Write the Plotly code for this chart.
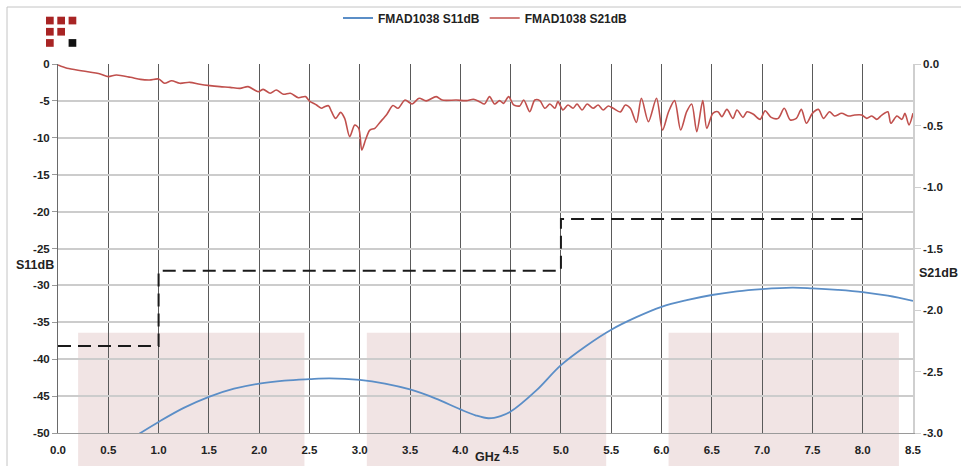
import plotly.graph_objects as go

# ---------------- data ----------------
s11_ghz = [0.60, 0.82, 1.00, 1.25, 1.50, 1.75, 2.00, 2.25, 2.50, 2.70, 3.00, 3.25,
           3.50, 3.75, 4.00, 4.15, 4.28, 4.40, 4.50, 4.75, 5.00, 5.25, 5.50,
           5.75, 6.00, 6.25, 6.50, 6.75, 7.00, 7.30, 7.50, 7.75, 8.00, 8.25, 8.50]
s11_db = [-52.0, -50.0, -48.5, -46.6, -45.1, -44.0, -43.3, -42.9, -42.7, -42.6, -42.8, -43.3,
          -44.1, -45.3, -46.8, -47.6, -48.0, -47.7, -47.1, -44.3, -40.8, -38.2, -36.0,
          -34.3, -32.9, -32.0, -31.3, -30.8, -30.5, -30.3, -30.4, -30.6, -30.9, -31.4, -32.1]

s21_ghz = [0.00, 0.09, 0.25, 0.42, 0.50, 0.58, 0.72, 0.82, 0.91, 1.00, 1.06, 1.13, 1.21, 1.31,
           1.41, 1.51, 1.61, 1.71, 1.81, 1.89, 1.99, 2.04, 2.11, 2.17, 2.24, 2.31, 2.39, 2.46,
           2.50, 2.57, 2.62, 2.65, 2.69, 2.72, 2.76, 2.81, 2.85, 2.90, 2.95, 2.99, 3.02, 3.06,
           3.10, 3.15, 3.20, 3.27, 3.33, 3.38, 3.45, 3.52, 3.59, 3.66, 3.76, 3.82, 3.96, 4.06,
           4.13, 4.19, 4.24, 4.29, 4.34, 4.39, 4.43, 4.48, 4.53, 4.59, 4.63, 4.69, 4.74, 4.79,
           4.84, 4.89, 4.94, 4.97, 5.02, 5.07, 5.12, 5.16, 5.21, 5.26, 5.32, 5.37, 5.42, 5.47,
           5.52, 5.59, 5.64, 5.69, 5.75, 5.80, 5.87, 5.95, 6.01, 6.07, 6.13, 6.19, 6.25, 6.30,
           6.35, 6.41, 6.45, 6.51, 6.56, 6.60, 6.65, 6.71, 6.75, 6.81, 6.85, 6.91, 6.98, 7.03,
           7.09, 7.16, 7.22, 7.28, 7.34, 7.39, 7.44, 7.50, 7.56, 7.61, 7.67, 7.72, 7.79, 7.86,
           7.92, 7.99, 8.04, 8.09, 8.14, 8.19, 8.25, 8.28, 8.34, 8.39, 8.42, 8.46, 8.50]
s21_db = [-0.008, -0.035, -0.057, -0.081, -0.103, -0.089, -0.108, -0.125, -0.130, -0.122, -0.157,
          -0.136, -0.157, -0.149, -0.165, -0.176, -0.184, -0.190, -0.198, -0.184, -0.225, -0.206,
          -0.238, -0.211, -0.246, -0.238, -0.274, -0.265, -0.301, -0.333, -0.360, -0.347, -0.339,
          -0.388, -0.442, -0.393, -0.442, -0.591, -0.496, -0.523, -0.699, -0.610, -0.537, -0.523,
          -0.475, -0.408, -0.337, -0.360, -0.293, -0.325, -0.279, -0.300, -0.265, -0.293, -0.293,
          -0.298, -0.287, -0.306, -0.325, -0.265, -0.325, -0.298, -0.320, -0.265, -0.333, -0.341,
          -0.293, -0.388, -0.293, -0.298, -0.360, -0.325, -0.360, -0.306, -0.374, -0.333, -0.360,
          -0.325, -0.374, -0.325, -0.360, -0.333, -0.374, -0.341, -0.360, -0.390, -0.333, -0.360,
          -0.475, -0.279, -0.469, -0.279, -0.537, -0.388, -0.298, -0.537, -0.388, -0.325, -0.550,
          -0.298, -0.523, -0.401, -0.388, -0.428, -0.369, -0.442, -0.374, -0.434, -0.388, -0.407,
          -0.450, -0.380, -0.434, -0.442, -0.360, -0.455, -0.442, -0.369, -0.482, -0.401, -0.369,
          -0.442, -0.388, -0.423, -0.401, -0.423, -0.415, -0.415, -0.442, -0.423, -0.450, -0.415,
          -0.388, -0.482, -0.423, -0.450, -0.401, -0.496, -0.401]

spec_ghz = [0.0, 1.0, 5.0, 8.0]
spec_db = [-38.2, -28.0, -21.0, -21.0]

band_start_ghz = [0.20, 3.07, 6.07]
band_end_ghz = [2.45, 5.45, 8.36]
band_top_db = -36.4

x_ticks = [0.0, 0.5, 1.0, 1.5, 2.0, 2.5, 3.0, 3.5, 4.0, 4.5, 5.0, 5.5, 6.0, 6.5, 7.0, 7.5, 8.0, 8.5]
x_tick_labels = ["0.0", "0.5", "1.0", "1.5", "2.0", "2.5", "3.0", "3.5", "4.0", "4.5",
                 "5.0", "5.5", "6.0", "6.5", "7.0", "7.5", "8.0", "8.5"]
y1_ticks = [0, -5, -10, -15, -20, -25, -30, -35, -40, -45, -50]
y1_tick_labels = ["0", "-5", "-10", "-15", "-20", "-25", "-30", "-35", "-40", "-45", "-50"]
y2_ticks = [0.0, -0.5, -1.0, -1.5, -2.0, -2.5, -3.0]
y2_tick_labels = ["0.0", "-0.5", "-1.0", "-1.5", "-2.0", "-2.5", "-3.0"]

# ---------------- figure ----------------
FONT = "Liberation Sans, Arial, sans-serif"
W, H = 961, 466
ML, MR, MT, MB = 58, 48, 64, 33
PW, PH = W - ML - MR, H - MT - MB


def px_x(p):
    return (p - ML) / PW


def px_y(p):
    return (H - MB - p) / PH


fig = go.Figure()

fig.add_trace(go.Scatter(
    x=s11_ghz, y=s11_db, name="FMAD1038 S11dB", mode="lines",
    line=dict(color="#5b8ec7", width=1.8, shape="spline", smoothing=1.0),
))
fig.add_trace(go.Scatter(
    x=s21_ghz, y=s21_db, name="FMAD1038 S21dB", mode="lines", yaxis="y2",
    line=dict(color="#c0504d", width=1.6, shape="spline", smoothing=0.8),
))
fig.add_trace(go.Scatter(
    x=spec_ghz, y=spec_db, mode="lines", showlegend=False, hoverinfo="skip",
    line=dict(color="#1a1a1a", width=2, dash="13px,7px", shape="hv"),
))

shapes = []
# outer frame
shapes.append(dict(type="rect", xref="paper", yref="paper",
                   x0=px_x(7), x1=px_x(990), y0=px_y(500), y1=px_y(7),
                   line=dict(color="#c4c4c4", width=1), fillcolor="rgba(0,0,0,0)", layer="below"))
# shaded bands
for a, b in zip(band_start_ghz, band_end_ghz):
    shapes.append(dict(type="rect", xref="x", yref="paper",
                       x0=a, x1=b, y0=px_y(480), y1=(band_top_db + 50) / 50,
                       line=dict(width=0), fillcolor="#f1e4e4", layer="below"))
# logo squares (row, col, colour)
logo = [(0, 0, "#a82424"), (0, 1, "#a82424"), (0, 2, "#a82424"),
        (1, 0, "#a82424"), (1, 1, "#a82424"),
        (2, 0, "#a82424"), (2, 2, "#111111")]
for r, c, col in logo:
    x0 = 46 + c * 11.3
    y0 = 16.7 + r * 11.2
    shapes.append(dict(type="rect", xref="paper", yref="paper",
                       x0=px_x(x0), x1=px_x(x0 + 7.7), y0=px_y(y0 + 7.7), y1=px_y(y0),
                       line=dict(width=0), fillcolor=col, layer="above"))

tickfont = dict(family=FONT, size=11.5, color="#222222", weight="bold")
titlefont = dict(family=FONT, size=12.5, color="#222222", weight="bold")

fig.update_layout(
    width=W, height=H,
    margin=dict(l=ML, r=MR, t=MT, b=MB, autoexpand=False),
    paper_bgcolor="white", plot_bgcolor="white",
    shapes=shapes,
    showlegend=True,
    legend=dict(orientation="h", x=0.50, xanchor="center", y=px_y(18), yanchor="middle",
                font=dict(family=FONT, size=12, color="#222222", weight="bold"),
                itemwidth=30, bgcolor="rgba(0,0,0,0)"),
    xaxis=dict(range=[0, 8.5], tickvals=x_ticks, ticktext=x_tick_labels,
               showgrid=True, gridcolor="#5a5a5a", gridwidth=1,
               showline=True, linecolor="#9a9a9a", linewidth=1,
               zeroline=False, ticks="", ticklabelstandoff=6, tickfont=tickfont),
    yaxis=dict(range=[-50, 0], tickvals=y1_ticks, ticktext=y1_tick_labels,
               showgrid=True, gridcolor="#cccccc", gridwidth=1.5,
               showline=True, linecolor="#6a6a6a", linewidth=1,
               zeroline=False, ticks="outside", ticklen=5, tickcolor="#9a9a9a",
               tickfont=tickfont),
    yaxis2=dict(range=[-3, 0], overlaying="y", side="right",
                tickvals=y2_ticks, ticktext=y2_tick_labels,
                showgrid=False, zeroline=False,
                showline=True, linecolor="#cfcfcf", linewidth=1.5,
                ticks="outside", ticklen=6, tickcolor="#cfcfcf", tickfont=tickfont),
    annotations=[
        dict(text="S11dB", xref="paper", yref="paper", x=px_x(35), y=px_y(265),
             xanchor="center", yanchor="middle", showarrow=False, font=titlefont),
        dict(text="S21dB", xref="paper", yref="paper", x=px_x(938), y=px_y(273),
             xanchor="center", yanchor="middle", showarrow=False, font=titlefont),
        dict(text="GHz", xref="paper", yref="paper", x=px_x(487), y=px_y(457),
             xanchor="center", yanchor="middle", showarrow=False, font=titlefont),
    ],
)

fig.write_html(
    "out.html",
    config={"displayModeBar": False},
    post_script="document.body.style.margin='0';document.body.style.overflow='hidden';",
)
